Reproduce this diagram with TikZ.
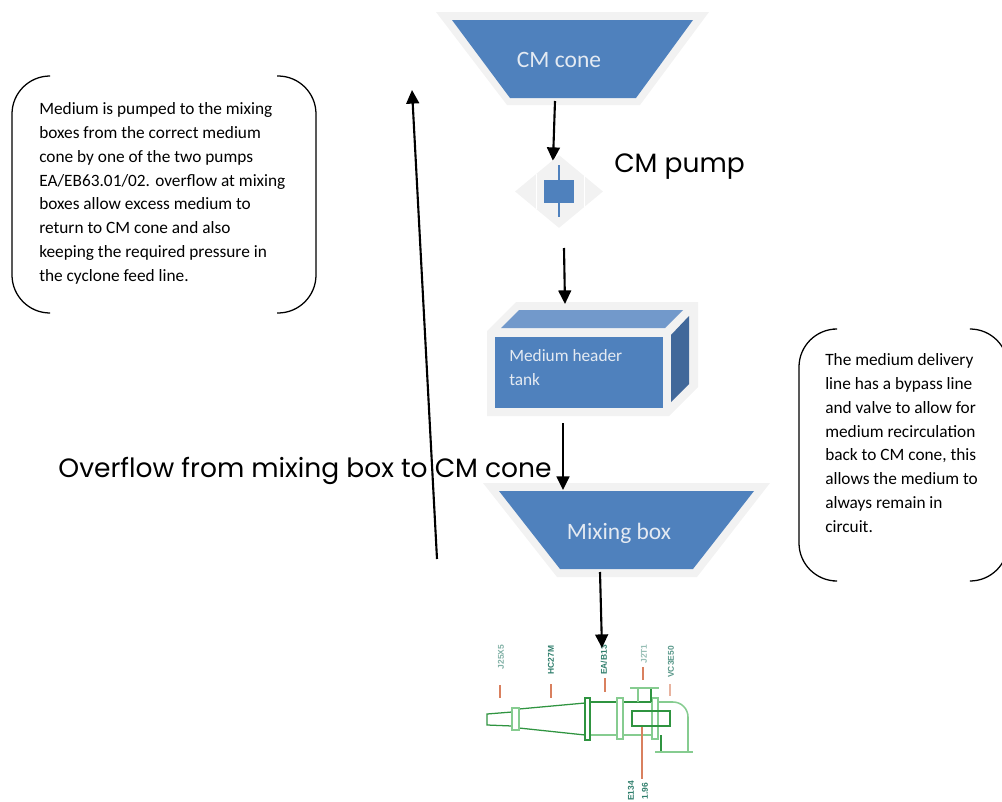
\documentclass[tikz,border=0pt]{standalone}
\usepackage{fontspec}
\setmainfont{Carlito}
\newfontfamily\headfont{Poppins}
\newfontfamily\tagfont{Liberation Sans}
\usetikzlibrary{arrows.meta,shapes.geometric}
\definecolor{boxblue}{HTML}{4F81BD}
\definecolor{boxgrey}{HTML}{F2F2F2}
\definecolor{boxlight}{HTML}{7299CB}
\definecolor{boxdark}{HTML}{41689A}
\definecolor{boxtext}{HTML}{E4EAF2}
\definecolor{pipegreen}{HTML}{2F9440}
\definecolor{pipelight}{HTML}{86CC90}
\definecolor{tagorange}{HTML}{D9805F}
\definecolor{tagteal}{HTML}{2E7D6B}
\tikzset{
	flow/.style={-{Triangle[length=0.34cm,width=0.32cm]}, line width=1.5pt},
	boxlabel/.style={text=boxtext, font=\fontsize{16.7}{20}\selectfont},
	note/.style={align=left, anchor=north west, inner sep=0pt, font=\fontsize{12.3}{17}\selectfont},
	bracket/.style={line width=0.9pt, rounded corners=0.95cm},
	head/.style={font=\headfont\fontsize{18.85}{22}\selectfont},
	pipe/.style={pipegreen, line width=0.9pt},
	pale/.style={pipelight, line width=1.1pt},
	tagline/.style={tagorange, line width=1.1pt},
	tag/.style={rotate=90, text=tagteal, inner sep=0pt, font=\tagfont\bfseries\fontsize{6}{6}\selectfont}
}
\begin{document}
\begin{tikzpicture}[x=0.025cm, y=-0.025cm]
	\useasboundingbox (0, 0) rectangle (1002, 802);
	\clip (0, 0) rectangle (1002, 802);
	% CM cone
	\fill [boxgrey] (436, 12) -- (709, 12) -- (640, 105) -- (507, 105) -- cycle;
	\fill [boxblue] (452, 20) -- (693, 20) -- (636, 98) -- (510, 98) -- cycle;
	\node (conetext) [boxlabel] at (559, 60) {CM cone};
	\coordinate (coneout) at (555, 101);
	\coordinate (pumpin) at (553, 161);
	\draw [flow] (coneout) -- (pumpin);
	% Pump
	\node (pumpshell) [diamond, fill=boxgrey, inner sep=0pt, minimum width=2.2cm, minimum height=1.825cm] at (559, 191.5) {};
	\draw [white, line width=0.5pt] (536, 174) -- (536, 209);
	\draw [white, line width=0.5pt] (584, 174) -- (584, 209);
	\draw [boxblue, line width=1pt] (559, 165) -- (559, 217);
	\node (pump) [fill=boxblue, inner sep=0pt, minimum width=0.75cm, minimum height=0.575cm] at (559, 191.5) {};
	\node (pumptext) [head] at (679.5, 167) {CM pump};
	\coordinate (pumpout) at (564, 248);
	% Tank
	\fill [boxgrey] (487, 331) -- (516, 302) -- (698, 302) -- (698, 387) -- (669, 416) -- (487, 416) -- cycle;
	\fill [boxlight] (501, 328) -- (519, 310) -- (683, 310) -- (665, 328) -- cycle;
	\fill [boxdark] (671, 335) -- (689, 316) -- (689, 384) -- (671, 402) -- cycle;
	\node (tank) [fill=boxblue, inner sep=0pt, minimum width=4.2cm, minimum height=1.775cm] at (579, 372.5) {};
	\node (tanktext) [note, text=boxtext] at (509, 349) {Medium header\\tank};
	\coordinate (tankin) at (565, 304);
	\coordinate (tankout) at (563, 423);
	% Mixing box
	\fill [boxgrey] (483, 483) -- (770, 483) -- (697, 577) -- (557, 577) -- cycle;
	\fill [boxblue] (499, 491) -- (754, 491) -- (693, 569) -- (560, 569) -- cycle;
	\node (mixtext) [boxlabel] at (619, 533) {Mixing box};
	\coordinate (mixin) at (563, 490);
	\coordinate (mixout) at (600, 572);
	% Notes
	\draw [bracket] (50, 76) -- (12, 76) -- (12, 313) -- (50, 313);
	\draw [bracket] (277, 76) -- (316, 76) -- (316, 313) -- (277, 313);
	\node (leftnote) [note] at (39, 102) {Medium is pumped to the mixing\\boxes from the correct medium\\cone by one of the two pumps\\EA/EB63.01/02. overflow at mixing\\boxes allow excess medium to\\return to CM cone and also\\keeping the required pressure in\\the cyclone feed line.};
	\draw [bracket] (833, 329) -- (799, 329) -- (799, 581) -- (833, 581);
	\draw [bracket] (972, 329) -- (1008, 329) -- (1008, 581) -- (972, 581);
	\node (rightnote) [note] at (825, 353) {The medium delivery\\line has a bypass line\\and valve to allow for\\medium recirculation\\back to CM cone, this\\allows the medium to\\always remain in\\circuit.};
	% Cyclone
	\draw [pipe] (519, 709) -- (585, 703);
	\draw [pipe] (519, 728) -- (585, 735);
	\draw [pipe] (512, 712) -- (487, 714) -- (487, 725) -- (512, 726);
	\draw [pale, fill=white] (512, 708) rectangle (519, 730);
	\draw [pipe] (590, 702) -- (652, 702);
	\draw [pale] (590, 735) -- (652, 735);
	\draw [pipe, fill=white] (585, 698) rectangle (590, 740);
	\draw [pale, fill=white] (617, 698) rectangle (623, 739);
	\draw [pale, fill=white] (652, 698) rectangle (658, 739);
	\draw [pipe] (632, 711) rectangle (670, 726);
	\draw [pale] (638, 688) -- (638, 702);
	\draw [pipe] (651, 688) -- (651, 702);
	\draw [pale] (630, 688) -- (659, 688);
	\draw [pale] (658, 702) -- (673, 702) arc (-90:0:15) -- (688, 752);
	\draw [pipe] (661, 735) -- (661, 751);
	\draw [pale] (655, 752) -- (693, 752);
	% Tags
	\draw [tagline] (500, 685) -- (500, 698);
	\draw [tagline] (551, 684) -- (551, 698);
	\draw [tagline] (605, 678) -- (605, 692);
	\draw [tagline] (643, 667) -- (643, 680);
	\draw [tagline, opacity=0.6] (670, 684) -- (670, 696);
	\draw [tagline] (642, 727) -- (642, 779);
	\node (tagone) [tag, opacity=0.6] at (501, 657) {J25X5};
	\node (tagtwo) [tag] at (551, 660) {HC27M};
	\node (tagthree) [tag] at (604, 660) {EA/B13};
	\node (tagfour) [tag, opacity=0.5] at (644, 654) {J2T1};
	\node (tagfive) [tag, opacity=0.8] at (671, 662) {VC3E50};
	\node (tagsix) [tag] at (631, 791) {E134};
	\node (tagseven) [tag] at (645, 791) {1.96};
	% Arrows
	\coordinate (overflowstart) at (437, 559);
	\coordinate (overflowend) at (412, 90);
	\coordinate (cycloneinlet) at (602, 648);
	\draw [flow] (overflowstart) -- (overflowend);
	\draw [flow] (pumpout) -- (tankin);
	\draw [flow] (tankout) -- (mixin);
	\draw [flow] (mixout) -- (cycloneinlet);
	% Overflow text
	\node (overflowtext) [head] at (305, 471) {Overflow from mixing box to CM cone};
\end{tikzpicture}
\end{document}
